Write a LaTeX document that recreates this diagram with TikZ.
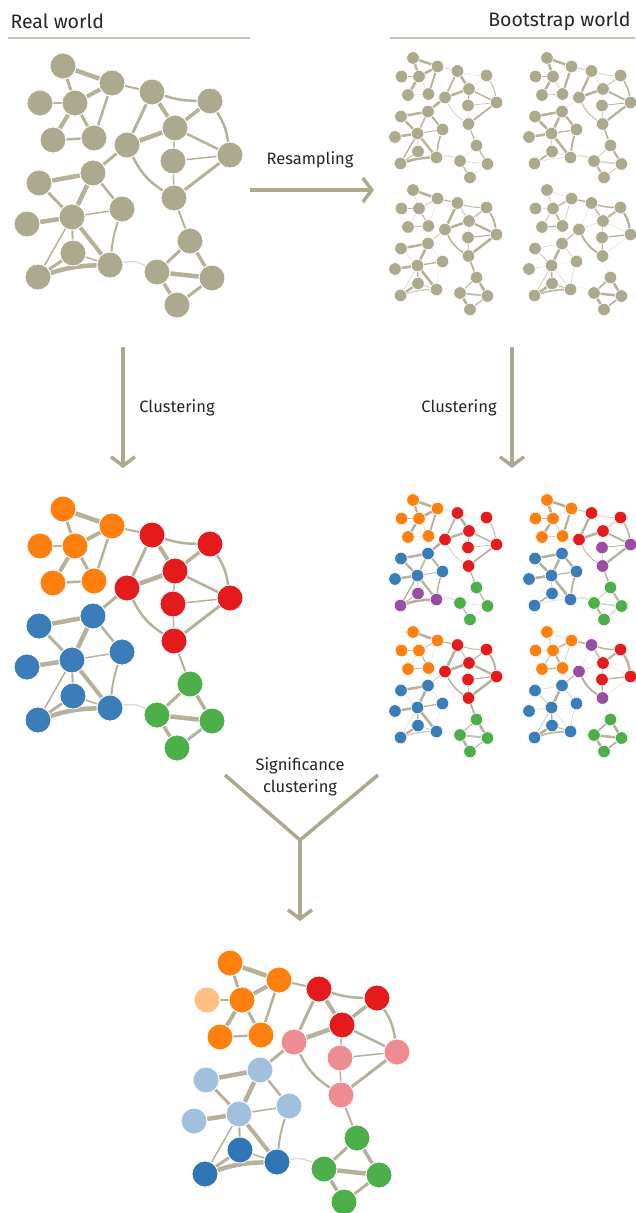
\documentclass[tikz,border=0pt]{standalone}
\usepackage{fontspec}
\setmainfont{Fira Sans}
\usetikzlibrary{arrows.meta}
\definecolor{kNode}{HTML}{ADA98E}
\definecolor{kEdge}{HTML}{B5B19A}
\definecolor{kLight}{HTML}{D8D8D4}
\definecolor{kHline}{HTML}{C6C3B1}
\definecolor{kO}{HTML}{FF800E}
\definecolor{kR}{HTML}{E41A1C}
\definecolor{kB}{HTML}{3A7DB8}
\definecolor{kDB}{HTML}{3176B4}
\definecolor{kG}{HTML}{4DAF4A}
\definecolor{kP}{HTML}{984EA3}
\definecolor{kLO}{HTML}{FFBE82}
\definecolor{kLR}{HTML}{EE8C91}
\definecolor{kLB}{HTML}{A0C0DE}
\pgfdeclarelayer{bg}
\pgfdeclarelayer{edges}
\pgfsetlayers{bg,edges,main}
\tikzset{
  bignode/.style={circle, draw=white, line width=0.8pt, minimum size=26pt, inner sep=0pt},
  smallnode/.style={circle, draw=white, line width=0.5pt, minimum size=12.5pt, inner sep=0pt},
  edge/.style={line cap=butt},
  flow/.style={draw=kNode, line width=3.5pt},
  flowhead/.style={-{Straight Barb[length=9pt,width=24pt]}},
  lbl/.style={font=\fontsize{16.5}{22}\selectfont, text=black!85},
  hdr/.style={font=\fontsize{19.5}{21}\selectfont, text=black!85},
  hline/.style={draw=kHline, line width=2.5pt},
}
\begin{document}
\begin{tikzpicture}[x=1pt,y=-1pt]
\useasboundingbox (0,0) rectangle (635,1213);
\begin{pgfonlayer}{bg}
\fill[white] (0,0) rectangle (635,1213);
\end{pgfonlayer}

% headers
\node[hdr, anchor=west] (hReal) at (7,21) {Real world};
\node[hdr, anchor=east] (hBoot) at (634,21) {Bootstrap world};
\coordinate (hlA) at (8,38); \coordinate (hlB) at (250,38);
\coordinate (hlC) at (390,38); \coordinate (hlD) at (635,38);
\draw[hline] (hlA) -- (hlB);
\draw[hline] (hlC) -- (hlD);

% nodes: index / x / y / colored / TL / TR / BL / BR / final
\foreach \i/\x/\y/\cm/\ca/\cb/\cc/\cd/\cf in {
 1/63/66/O/O/O/O/O/O,
 2/112/83/O/O/O/O/O/O,
 3/40/103/O/O/O/O/O/LO,
 4/75/103/O/O/O/O/O/O,
 5/152/92/R/R/R/R/P/R,
 6/210/101/R/R/R/R/R/R,
 7/53/140/O/O/O/O/O/O,
 8/94/138/O/O/O/O/O/O,
 9/127/145/R/R/R/R/P/LR,
 10/175/128/R/R/R/R/R/R,
 11/230/155/R/R/P/R/R/LR,
 12/173/161/R/R/P/R/R/LR,
 13/39/183/B/B/B/B/B/LB,
 14/93/173/B/B/B/B/B/LB,
 15/174/198/R/R/P/R/P/LR,
 16/72/217/B/B/B/B/B/LB,
 17/122/209/B/B/B/B/B/LB,
 18/27/224/B/B/B/B/B/LB,
 19/73/253/B/P/B/B/B/DB,
 20/110/265/B/P/B/B/B/DB,
 21/38/277/B/P/B/B/B/DB,
 22/190/241/G/G/G/G/G/G,
 23/157/272/G/G/G/G/G/G,
 24/212/278/G/G/G/G/G/G,
 25/177/305/G/G/G/G/G/G}{
  \node[bignode, fill=kNode] (G\i) at (\x,\y) {};
  \node[smallnode, fill=kNode] (Ga\i) at ({0.5*\x+381.5},{0.5*\y+25}) {};
  \node[smallnode, fill=kNode] (Gb\i) at ({0.5*\x+515.5},{0.5*\y+25}) {};
  \node[smallnode, fill=kNode] (Gc\i) at ({0.5*\x+381.5},{0.5*\y+157}) {};
  \node[smallnode, fill=kNode] (Gd\i) at ({0.5*\x+515.5},{0.5*\y+157}) {};
  \node[bignode, fill=k\cm] (C\i) at (\x,{\y+443}) {};
  \node[smallnode, fill=k\ca] (Ca\i) at ({0.5*\x+381.5},{0.5*\y+467}) {};
  \node[smallnode, fill=k\cb] (Cb\i) at ({0.5*\x+515.5},{0.5*\y+467}) {};
  \node[smallnode, fill=k\cc] (Cc\i) at ({0.5*\x+381.5},{0.5*\y+599}) {};
  \node[smallnode, fill=k\cd] (Cd\i) at ({0.5*\x+515.5},{0.5*\y+599}) {};
  \node[bignode, fill=k\cf] (F\i) at ({\x+167},{\y+897}) {};
}

% edges: a / b / width / bend / colour
\begin{pgfonlayer}{edges}
\foreach \a/\b/\w/\bd/\ec [count=\n] in {
 1/2/4.5/0/kEdge, 1/4/3/0/kEdge, 3/4/2/0/kEdge, 2/4/4/0/kEdge,
 2/8/2.5/0/kEdge, 4/7/4/0/kEdge, 4/8/3/0/kEdge, 7/8/2.5/0/kEdge,
 2/5/2/0/kEdge, 5/6/2.5/-8/kEdge, 5/10/4/0/kEdge, 5/9/3/0/kEdge,
 6/10/3.5/0/kEdge, 6/11/2.5/12/kEdge, 10/11/2.5/0/kEdge, 10/12/1.5/0/kEdge,
 9/10/4.5/0/kEdge, 12/11/1.5/0/kEdge, 9/14/3/0/kEdge, 9/15/2.5/-15/kEdge,
 12/15/1.5/0/kEdge, 11/15/3/0/kEdge, 13/14/4.5/0/kEdge, 13/16/3/0/kEdge,
 14/16/4.5/0/kEdge, 14/17/2.5/0/kEdge, 16/17/1.5/0/kEdge, 18/16/4.5/0/kEdge,
 16/19/2/0/kEdge, 16/20/4/0/kEdge, 16/21/1.5/0/kEdge, 17/20/2/-6/kEdge,
 19/21/3/0/kEdge, 19/20/1.5/0/kEdge, 21/20/4.5/8/kEdge, 20/23/1.3/20/kLight,
 15/22/2/0/kEdge, 22/23/3/0/kEdge, 22/24/3.5/0/kEdge, 23/24/4.5/0/kEdge,
 23/25/3.5/0/kEdge, 24/25/3/0/kEdge}{
  \draw[edge, draw=\ec, line width=\w pt] (G\a) to[bend left=\bd] (G\b);
  \draw[edge, draw=\ec, line width=\w pt] (C\a) to[bend left=\bd] (C\b);
  \draw[edge, draw=\ec, line width=\w pt] (F\a) to[bend left=\bd] (F\b);
  \foreach \k/\p in {1/a,2/b,3/c,4/d}{
    \pgfmathsetmacro\ff{0.3+mod(\a*7+\b*11+\k*13+\n*3,6)*0.3}
    \pgfmathsetmacro\ww{min(2.6,0.5*\w*\ff)}
    \pgfmathtruncatemacro\pp{min(100,30+\ff*55)}
    \draw[edge, draw=\ec!\pp!white, line width=\ww pt] (G\p\a) to[bend left=\bd] (G\p\b);
    \draw[edge, draw=\ec!\pp!white, line width=\ww pt] (C\p\a) to[bend left=\bd] (C\p\b);
  }
}
\end{pgfonlayer}

% flow arrows
\coordinate (rsA) at (250,190); \coordinate (rsB) at (374,190);
\draw[flow, flowhead] (rsA) -- (rsB);
\node[lbl] (rsL) at (310,160) {Resampling};

\coordinate (clA) at (123,347); \coordinate (clB) at (123,468);
\draw[flow, flowhead] (clA) -- (clB);
\node[lbl] (clL) at (177,408) {Clustering};

\coordinate (crA) at (512,347); \coordinate (crB) at (512,468);
\draw[flow, flowhead] (crA) -- (crB);
\node[lbl] (crL) at (459,408) {Clustering};

\coordinate (yL) at (225,775); \coordinate (yR) at (378,775);
\coordinate (yJ) at (300,840); \coordinate (yT) at (300,921);
\draw[flow, line join=round] (yL) -- (yJ) -- (yR);
\draw[flow, flowhead] (yJ) -- (yT);
\node[lbl, align=center] (sigL) at (300,777) {Significance\\clustering};
\end{tikzpicture}
\end{document}
